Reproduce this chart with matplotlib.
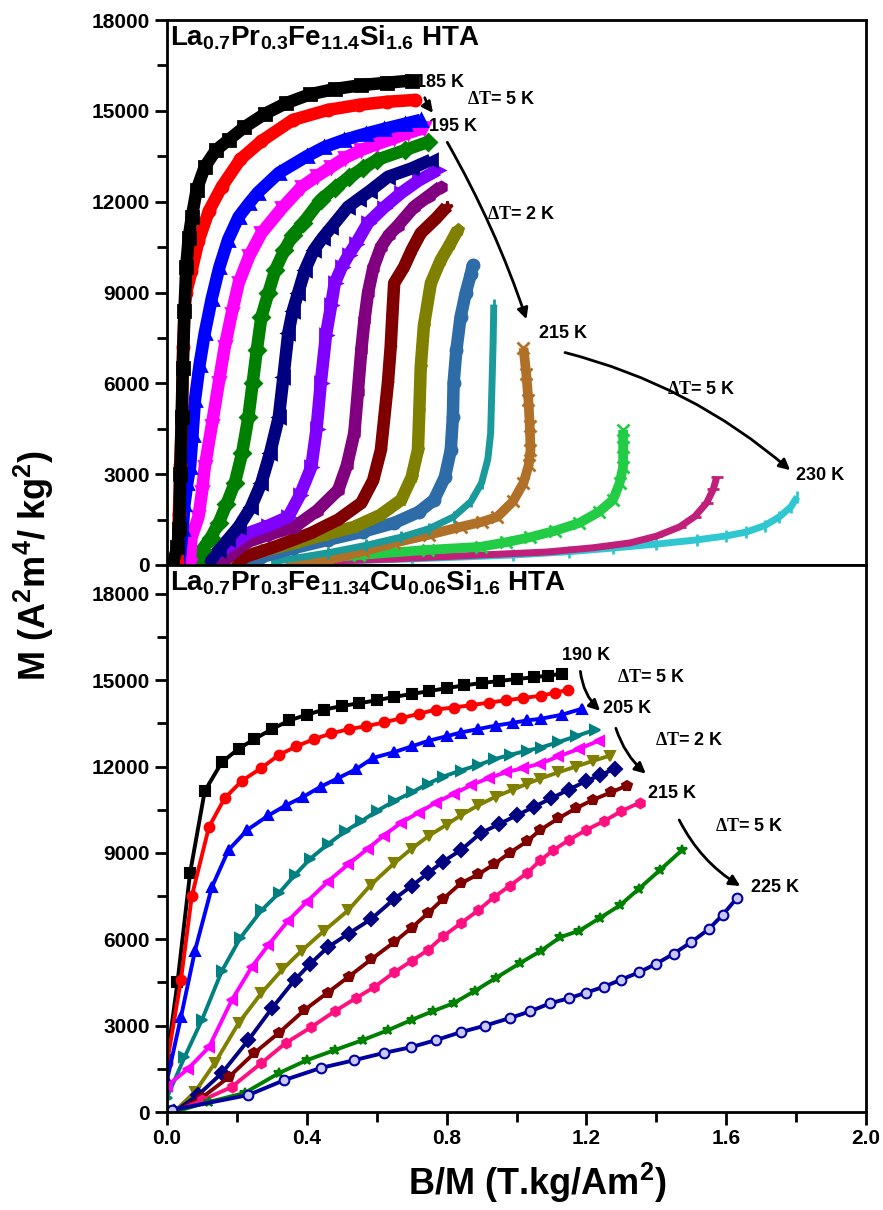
import matplotlib
matplotlib.use('Agg')
import matplotlib.pyplot as plt
from matplotlib.ticker import MultipleLocator

plt.rcParams['font.family'] = ['Liberation Sans', 'DejaVu Sans']
plt.rcParams['font.weight'] = 'bold'
plt.rcParams['mathtext.fontset'] = 'custom'
plt.rcParams['mathtext.rm'] = 'Liberation Serif'
plt.rcParams['mathtext.bf'] = 'Liberation Sans:bold'

# ---- top panel : La0.7Pr0.3Fe11.4Si1.6 HTA (185 K ... 230 K) ----
top_temps = [185, 190, 195, 197, 199, 201, 203, 205, 207, 209, 211, 213, 215, 220, 225, 230]

t185_x = [0.015, 0.03, 0.035, 0.038, 0.042, 0.045, 0.05, 0.055, 0.062, 0.071, 0.085, 0.108, 0.14,
          0.176, 0.22, 0.28, 0.34, 0.41, 0.48, 0.556, 0.63, 0.70]
t185_m = [0, 600, 1200, 3000, 4900, 6500, 8400, 9840, 10800, 11500, 12400, 13150, 13700,
          14040, 14450, 14900, 15250, 15550, 15720, 15850, 15930, 16000]
t190_x = [0.03, 0.034, 0.038, 0.043, 0.046, 0.05, 0.055, 0.07, 0.09, 0.12, 0.157, 0.21, 0.27,
          0.36, 0.46, 0.55, 0.63, 0.71]
t190_m = [100, 1700, 3300, 5000, 7200, 8400, 9000, 9700, 10700, 11700, 12500, 13400, 14000,
          14700, 15030, 15200, 15300, 15360]
t195_x = [0.035, 0.045, 0.05, 0.058, 0.066, 0.073, 0.08, 0.093, 0.108, 0.128, 0.15, 0.175, 0.205,
          0.235, 0.26, 0.32, 0.4, 0.45, 0.507, 0.57, 0.62, 0.68, 0.726]
t195_m = [0, 1200, 2000, 2700, 3240, 4300, 5450, 6600, 7660, 8800, 9840, 10750, 11500,
          11950, 12300, 12950, 13500, 13800, 14040, 14250, 14400, 14570, 14700]
t197_x = [0.065, 0.07, 0.09, 0.1, 0.108, 0.128, 0.148, 0.165, 0.185, 0.205, 0.235, 0.27, 0.33,
          0.385, 0.43, 0.47, 0.51, 0.556, 0.6, 0.65, 0.69, 0.735]
t197_m = [0, 900, 1590, 2400, 3240, 4600, 6010, 7200, 8300, 9310, 10200, 10960, 11800,
          12490, 12850, 13150, 13450, 13710, 13900, 14100, 14270, 14430]
t199_x = [0.085, 0.10, 0.125, 0.148, 0.17, 0.194, 0.215, 0.233, 0.245, 0.257, 0.27, 0.29, 0.31,
          0.336, 0.36, 0.39, 0.44, 0.48, 0.52, 0.56, 0.60, 0.68, 0.746]
t199_m = [0, 500, 900, 1390, 2000, 2710, 3700, 4890, 6000, 7100, 8190, 8980, 9750,
          10400, 10900, 11300, 12060, 12450, 12800, 13100, 13380, 13700, 13970]
t201_x = [0.115, 0.148, 0.175, 0.205, 0.24, 0.27, 0.295, 0.32, 0.333, 0.347, 0.36, 0.375, 0.395,
          0.42, 0.445, 0.47, 0.518, 0.55, 0.58, 0.632, 0.70, 0.755]
t201_m = [0, 500, 850, 1260, 1900, 2710, 3700, 4890, 6200, 7660, 8400, 8980, 9750,
          10400, 10800, 11150, 11830, 12100, 12350, 12820, 13100, 13380]
t203_x = [0.128, 0.18, 0.233, 0.29, 0.347, 0.38, 0.413, 0.428, 0.44, 0.455, 0.47, 0.48, 0.50,
          0.52, 0.54, 0.575, 0.62, 0.67, 0.72, 0.775]
t203_m = [260, 650, 1060, 1300, 1590, 2300, 3240, 4500, 6010, 7600, 8600, 9310, 9840,
          10250, 10600, 11300, 11800, 12290, 12700, 13050]
t205_x = [0.15, 0.222, 0.29, 0.365, 0.43, 0.49, 0.515, 0.536, 0.546, 0.556, 0.565, 0.575, 0.59,
          0.612, 0.635, 0.66, 0.707, 0.75, 0.783]
t205_m = [0, 730, 1000, 1260, 1800, 2480, 3300, 4360, 5700, 7100, 8100, 8980, 9800,
          10500, 10900, 11200, 11830, 12200, 12490]
t207_x = [0.2, 0.222, 0.32, 0.413, 0.49, 0.556, 0.59, 0.612, 0.622, 0.632, 0.64, 0.645, 0.65,
          0.678, 0.70, 0.726, 0.77, 0.80]
t207_m = [0, 260, 650, 1060, 1500, 2050, 2800, 3800, 4900, 6010, 7200, 8300, 9310,
          9840, 10400, 10960, 11450, 11830]
t209_x = [0.18, 0.27, 0.365, 0.45, 0.536, 0.61, 0.67, 0.70, 0.718, 0.722, 0.726, 0.735, 0.755,
          0.783, 0.81, 0.832]
t209_m = [170, 450, 730, 1000, 1260, 1650, 2150, 2900, 3800, 5100, 6540, 7900, 9310,
          10070, 10600, 11070]
t211_x = [0.22, 0.27, 0.36, 0.46, 0.56, 0.65, 0.72, 0.764, 0.795, 0.812, 0.818, 0.82, 0.828,
          0.84, 0.855, 0.869, 0.875]
t211_m = [0, 260, 550, 830, 1100, 1390, 1750, 2150, 2900, 3800, 4900, 6010, 7100,
          8190, 9000, 9600, 9910]
t213_x = [0.3, 0.46, 0.57, 0.67, 0.75, 0.82, 0.87, 0.9, 0.918, 0.926, 0.93, 0.933, 0.935]
t213_m = [100, 400, 650, 920, 1200, 1590, 2100, 2710, 3500, 4360, 6010, 7300, 8600]
t215_x = [0.35, 0.46, 0.56, 0.65, 0.75, 0.84, 0.9, 0.945, 0.99, 1.02, 1.035, 1.04, 1.038,
          1.034, 1.028, 1.02]
t215_m = [0, 170, 450, 730, 1000, 1260, 1420, 1590, 2100, 2710, 3300, 3800, 4600,
          5450, 6300, 7170]
t220_x = [0.385, 0.55, 0.746, 0.897, 0.97, 1.04, 1.11, 1.18, 1.235, 1.276, 1.295, 1.305, 1.305, 1.305]
t220_m = [170, 330, 500, 600, 750, 920, 1130, 1390, 1750, 2150, 2700, 3240, 3900, 4460]
t225_x = [0.385, 0.65, 0.897, 1.088, 1.22, 1.325, 1.4, 1.467, 1.51, 1.544, 1.563, 1.573]
t225_m = [100, 200, 330, 430, 570, 730, 950, 1260, 1600, 2050, 2500, 2910]
t230_x = [0.385, 0.7, 0.99, 1.15, 1.276, 1.4, 1.516, 1.6, 1.658, 1.71, 1.752, 1.785, 1.803]
t230_m = [100, 200, 330, 440, 560, 690, 830, 960, 1090, 1300, 1590, 1920, 2250]

# ---- bottom panel : La0.7Pr0.3Fe11.34Cu0.06Si1.6 HTA (190 K ... 225 K) ----
bot_temps = [190, 195, 200, 205, 207, 209, 211, 213, 215, 220, 225]

b190_x = [0.0, 0.03, 0.066, 0.108, 0.157, 0.205, 0.25, 0.30, 0.35, 0.40, 0.45, 0.50, 0.55,
          0.60, 0.65, 0.70, 0.75, 0.80, 0.85, 0.90, 0.95, 1.00, 1.05, 1.09, 1.13]
b190_m = [1800, 4500, 8300, 11150, 12150, 12620, 12950, 13300, 13600, 13800, 13980, 14100, 14200,
          14300, 14420, 14520, 14620, 14720, 14820, 14900, 14970, 15040, 15100, 15160, 15220]
b195_x = [0.0, 0.04, 0.071, 0.12, 0.165, 0.214, 0.27, 0.32, 0.37, 0.42, 0.47, 0.52, 0.57,
          0.62, 0.67, 0.72, 0.77, 0.82, 0.87, 0.92, 0.97, 1.02, 1.07, 1.11, 1.148]
b195_m = [1700, 4600, 7500, 9900, 10900, 11500, 11950, 12400, 12700, 12950, 13150, 13300, 13400,
          13530, 13680, 13830, 13980, 14050, 14130, 14220, 14300, 14380, 14460, 14560, 14670]
b200_x = [0.0, 0.04, 0.08, 0.128, 0.176, 0.23, 0.29, 0.34, 0.39, 0.44, 0.49, 0.54, 0.59,
          0.65, 0.70, 0.75, 0.80, 0.84, 0.89, 0.94, 0.99, 1.03, 1.07, 1.13, 1.188]
b200_m = [1100, 3300, 5600, 7800, 9100, 9800, 10300, 10650, 10950, 11300, 11600, 11900, 12300,
          12500, 12700, 12900, 13050, 13180, 13300, 13420, 13520, 13600, 13660, 13800, 14010]
b205_x = [0.0, 0.05, 0.10, 0.157, 0.21, 0.27, 0.32, 0.365, 0.41, 0.46, 0.51, 0.556, 0.60,
          0.65, 0.70, 0.746, 0.79, 0.84, 0.89, 0.935, 0.98, 1.03, 1.07, 1.12, 1.17, 1.225]
b205_m = [500, 1900, 3200, 4900, 6050, 7000, 7600, 8220, 8800, 9300, 9750, 10100, 10450,
          10800, 11100, 11400, 11650, 11860, 12050, 12250, 12400, 12550, 12660, 12850, 13050, 13280]
b207_x = [0.0, 0.06, 0.12, 0.185, 0.242, 0.29, 0.347, 0.40, 0.46, 0.518, 0.575, 0.62,
          0.67, 0.72, 0.77, 0.82, 0.87, 0.92, 0.97, 1.02, 1.068, 1.12, 1.18, 1.236]
b207_m = [900, 1500, 2250, 3880, 5030, 5800, 6650, 7300, 8000, 8600, 9150, 9600,
          10050, 10400, 10750, 11050, 11350, 11600, 11800, 11950, 12100, 12350, 12620, 12900]
b209_x = [0.02, 0.08, 0.137, 0.205, 0.27, 0.33, 0.385, 0.45, 0.518, 0.584, 0.65, 0.70,
          0.75, 0.80, 0.84, 0.89, 0.94, 0.99, 1.03, 1.068, 1.12, 1.17, 1.22, 1.268]
b209_m = [0, 700, 1700, 3090, 4130, 4950, 5600, 6300, 7000, 7900, 8640, 9150,
          9600, 9980, 10300, 10650, 10950, 11200, 11400, 11580, 11800, 12000, 12200, 12380]
b211_x = [0.02, 0.09, 0.157, 0.233, 0.30, 0.365, 0.41, 0.46, 0.52, 0.584, 0.65, 0.70,
          0.746, 0.79, 0.84, 0.897, 0.95, 1.00, 1.05, 1.10, 1.15, 1.20, 1.24, 1.282]
b211_m = [0, 600, 1350, 2500, 3600, 4580, 5150, 5720, 6200, 6700, 7400, 7850,
          8290, 8700, 9090, 9680, 10000, 10300, 10600, 10900, 11200, 11500, 11700, 11930]
b213_x = [0.02, 0.10, 0.176, 0.25, 0.32, 0.393, 0.46, 0.52, 0.584, 0.65, 0.70, 0.746,
          0.79, 0.84, 0.89, 0.935, 0.98, 1.03, 1.068, 1.12, 1.17, 1.22, 1.27, 1.316]
b213_m = [0, 500, 1200, 2050, 2750, 3540, 4150, 4700, 5300, 5900, 6400, 6900,
          7400, 7940, 8250, 8600, 9000, 9400, 9800, 10200, 10550, 10850, 11100, 11340]
b215_x = [0.02, 0.10, 0.185, 0.27, 0.34, 0.413, 0.48, 0.54, 0.593, 0.65, 0.70, 0.746, 0.79,
          0.84, 0.89, 0.935, 0.98, 1.03, 1.068, 1.105, 1.15, 1.20, 1.25, 1.30, 1.353]
b215_m = [0, 400, 870, 1700, 2400, 2950, 3500, 3950, 4340, 4850, 5250, 5620, 6100,
          6550, 7000, 7460, 7850, 8300, 8740, 9090, 9450, 9800, 10100, 10450, 10750]
b220_x = [0.02, 0.12, 0.222, 0.32, 0.40, 0.48, 0.56, 0.632, 0.70, 0.76, 0.82, 0.88,
          0.94, 1.01, 1.07, 1.125, 1.18, 1.24, 1.296, 1.35, 1.41, 1.473]
b220_m = [0, 350, 660, 1350, 1800, 2150, 2500, 2840, 3200, 3500, 3780, 4200,
          4650, 5170, 5600, 6070, 6300, 6750, 7180, 7750, 8400, 9090]
b225_x = [0.014, 0.233, 0.336, 0.44, 0.536, 0.62, 0.698, 0.77, 0.84, 0.91, 0.98, 1.04,
          1.097, 1.15, 1.20, 1.25, 1.30, 1.35, 1.40, 1.45, 1.50, 1.55, 1.59, 1.63]
b225_m = [70, 590, 1110, 1530, 1800, 2050, 2250, 2500, 2770, 3000, 3260, 3500,
          3780, 3950, 4150, 4350, 4600, 4850, 5150, 5500, 5900, 6350, 6850, 7420]

top_curves = [(t185_x, t185_m), (t190_x, t190_m), (t195_x, t195_m), (t197_x, t197_m),
              (t199_x, t199_m), (t201_x, t201_m), (t203_x, t203_m), (t205_x, t205_m),
              (t207_x, t207_m), (t209_x, t209_m), (t211_x, t211_m), (t213_x, t213_m),
              (t215_x, t215_m), (t220_x, t220_m), (t225_x, t225_m), (t230_x, t230_m)]
bot_curves = [(b190_x, b190_m), (b195_x, b195_m), (b200_x, b200_m), (b205_x, b205_m),
              (b207_x, b207_m), (b209_x, b209_m), (b211_x, b211_m), (b213_x, b213_m),
              (b215_x, b215_m), (b220_x, b220_m), (b225_x, b225_m)]

top_colors = ['black', '#ff0000', '#0000ff', '#ff00ff', '#008000', '#000080', '#8000ff',
              '#800080', '#800000', '#808000', '#2e6ca8', '#1a9a9a', '#b07028', '#22cc44',
              '#c0207a', '#30c8d0']
top_marks = ['s', 'o', '^', 'v', 'D', '<', '>', 'h', '*', 'p', 'o', '|', 'x', 'x', '_', '|']
top_lw = [9, 9, 9, 9, 9, 9, 9, 9, 9, 9, 9, 5, 7, 7, 5, 5]

bot_colors = ['black', '#ff0000', '#0000ff', '#008080', '#ff00ff', '#808000', '#000080',
              '#800000', '#ff1080', '#008000', '#0000a0']
bot_marks = ['s', 'o', '^', '>', '<', 'v', 'D', 'p', 'h', '*', 'o']

fig = plt.figure(figsize=(8.83, 12.10), dpi=100)
ax1 = fig.add_axes([167/883, 1-565/1210, 699/883, 545/1210])
ax2 = fig.add_axes([167/883, 1-1112/1210, 699/883, 547/1210])

for i, (x, m) in enumerate(top_curves):
    ax1.plot(x, m, color=top_colors[i], lw=top_lw[i], solid_capstyle='butt',
             solid_joinstyle='round', marker=top_marks[i], ms=8, mew=2, zorder=20-i)

for i, (x, m) in enumerate(bot_curves):
    face = '#c8c8ff' if i == len(bot_curves)-1 else bot_colors[i]
    ax2.plot(x, m, color=bot_colors[i], lw=2.8, marker=bot_marks[i], ms=7,
             mfc=face, mec=bot_colors[i], mew=1.5)

for ax in (ax1, ax2):
    ax.set_xlim(0, 2.0)
    ax.xaxis.set_major_locator(MultipleLocator(0.4))
    ax.xaxis.set_minor_locator(MultipleLocator(0.2))
    ax.yaxis.set_major_locator(MultipleLocator(3000))
    ax.yaxis.set_minor_locator(MultipleLocator(1500))
    ax.tick_params(which='major', direction='out', length=9, width=2, labelsize=15)
    ax.tick_params(which='minor', direction='out', length=7, width=2)
    for sp in ax.spines.values():
        sp.set_linewidth(2)
    for lab in ax.get_xticklabels() + ax.get_yticklabels():
        lab.set_fontweight('bold')

ax1.set_ylim(0, 18000)
ax1.tick_params(axis='x', which='both', bottom=False, labelbottom=False)
ax2.set_ylim(0, 19000)
ax2.set_xticks([0.0, 0.4, 0.8, 1.2, 1.6, 2.0])
ax2.set_xticklabels(['0.0', '0.4', '0.8', '1.2', '1.6', '2.0'], fontweight='bold')

ax1.text(0.005, 0.995, r'La$_{\mathbf{0.7}}$Pr$_{\mathbf{0.3}}$Fe$_{\mathbf{11.4}}$Si$_{\mathbf{1.6}}$ HTA',
         transform=ax1.transAxes, fontsize=20, fontweight='bold', va='top', ha='left')
ax2.text(0.005, 0.995, r'La$_{\mathbf{0.7}}$Pr$_{\mathbf{0.3}}$Fe$_{\mathbf{11.34}}$Cu$_{\mathbf{0.06}}$Si$_{\mathbf{1.6}}$ HTA',
         transform=ax2.transAxes, fontsize=20, fontweight='bold', va='top', ha='left')

dT = r'$\mathrm{\Delta T}$= '
kw = dict(fontsize=13, fontweight='bold', ha='left', va='center')
ax1.text(0.712, 15950, '185 K', **kw)
ax1.text(0.858, 15360, dT + '5 K', **kw)
ax1.text(0.749, 14470, '195 K', **kw)
ax1.text(0.917, 11560, dT + '2 K', **kw)
ax1.text(1.063, 7630, '215 K', **kw)
ax1.text(1.43, 5810, dT + '5 K', **kw)
ax1.text(1.80, 2940, '230 K', **kw)

ax2.text(1.131, 15850, '190 K', **kw)
ax2.text(1.288, 15090, dT + '5 K', **kw)
ax2.text(1.248, 14010, '205 K', **kw)
ax2.text(1.396, 12900, dT + '2 K', **kw)
ax2.text(1.376, 11060, '215 K', **kw)
ax2.text(1.567, 9920, dT + '5 K', **kw)
ax2.text(1.672, 7800, '225 K', **kw)

arr = dict(arrowstyle='-|>', color='black', lw=2, mutation_scale=16)
ax1.annotate('', xy=(0.766, 14860), xytext=(0.735, 15520),
             arrowprops=dict(connectionstyle='arc3,rad=0.1', **arr))
ax1.annotate('', xy=(1.031, 8030), xytext=(0.798, 14040),
             arrowprops=dict(connectionstyle='arc3,rad=-0.05', **arr))
ax1.annotate('', xy=(1.789, 3070), xytext=(1.131, 7040),
             arrowprops=dict(connectionstyle='arc3,rad=-0.12', **arr))
ax2.annotate('', xy=(1.245, 13870), xytext=(1.182, 15400),
             arrowprops=dict(connectionstyle='arc3,rad=0.2', **arr))
ax2.annotate('', xy=(1.376, 11690), xytext=(1.282, 13420),
             arrowprops=dict(connectionstyle='arc3,rad=0.15', **arr))
ax2.annotate('', xy=(1.647, 7800), xytext=(1.462, 10230),
             arrowprops=dict(connectionstyle='arc3,rad=0.15', **arr))

fig.text(34/883, 1-565/1210, r'M (A$^{\mathbf{2}}$m$^{\mathbf{4}}$/ kg$^{\mathbf{2}}$)',
         rotation=90, fontsize=26, fontweight='bold', ha='center', va='center')
fig.text(537/883, 1-1183/1210, r'B/M (T.kg/Am$^{\mathbf{2}}$)',
         fontsize=26, fontweight='bold', ha='center', va='center')

fig.savefig('out.png', dpi=100)
